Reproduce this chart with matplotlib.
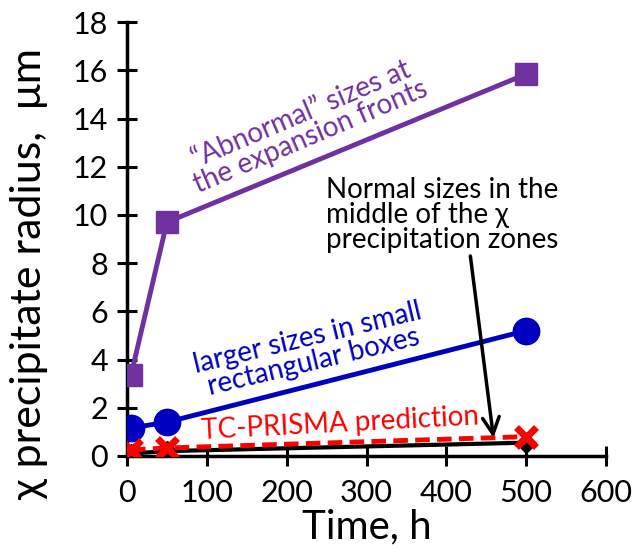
import matplotlib
matplotlib.use("Agg")
import matplotlib.pyplot as plt

plt.rcParams['font.family'] = ['Lato', 'DejaVu Sans']

time_h = [5, 50, 500]
abnormal = [3.35, 9.7, 15.85]
larger = [1.16, 1.4, 5.2]
prisma = [0.25, 0.33, 0.8]
normal = [0.1, 0.2, 0.55]

xticks = [0, 100, 200, 300, 400, 500, 600]
yticks = [0, 2, 4, 6, 8, 10, 12, 14, 16, 18]

purple = '#7030A0'
blue = '#0000C0'
red = '#FF0000'

fig = plt.figure(figsize=(6.34, 5.56), dpi=100)
ax = fig.add_axes([0.2003, 0.18, 0.7557, 0.78])

ax.plot(time_h, normal, color='black', lw=3, marker='D', ms=10, zorder=3)
ax.plot(time_h, prisma, color=red, lw=3.5, ls=(0, (3, 1.5)), marker='x', ms=14, mew=5, zorder=4)
ax.plot(time_h, larger, color=blue, lw=3.5, marker='o', ms=19, zorder=3)
ax.plot(time_h, abnormal, color=purple, lw=3.5, marker='s', ms=16, zorder=3)

ax.set_xlim(0, 600)
ax.set_ylim(0, 18)
ax.set_xticks(xticks)
ax.set_yticks(yticks)
ax.spines['top'].set_visible(False)
ax.spines['right'].set_visible(False)
for s in ('left', 'bottom'):
    ax.spines[s].set_linewidth(2.5)
ax.tick_params(direction='inout', length=15, width=2.2, labelsize=22)
ax.tick_params(axis='x', pad=9)
ax.tick_params(axis='y', pad=6)
ax.set_xlabel('Time, h', fontsize=29, labelpad=1)
ax.set_ylabel('χ precipitate radius,  μm', fontsize=31)
ax.yaxis.set_label_coords(-0.165, 0.42)

ax.text(224, 13.7, '\u201cAbnormal\u201d sizes at\nthe expansion fronts', color=purple,
        fontsize=20, rotation=23, ha='center', va='center', linespacing=0.95, rotation_mode='anchor')
ax.text(230, 4.4, 'larger sizes in small\nrectangular boxes', color=blue,
        fontsize=20, rotation=13.5, ha='center', va='center', linespacing=0.95, rotation_mode='anchor')
ax.text(267, 1.33, 'TC-PRISMA prediction', color=red,
        fontsize=20, rotation=3, ha='center', va='center', rotation_mode='anchor')
ax.text(249, 10.0, 'Normal sizes in the\nmiddle of the χ\nprecipitation zones', color='black',
        fontsize=20, ha='left', va='center', linespacing=0.95)
ax.annotate('', xy=(459, 0.75), xytext=(430, 8.3),
            arrowprops=dict(arrowstyle='->', color='black', lw=2.5, mutation_scale=30,
                            shrinkA=0, shrinkB=0))

fig.savefig('out.png', dpi=100)
